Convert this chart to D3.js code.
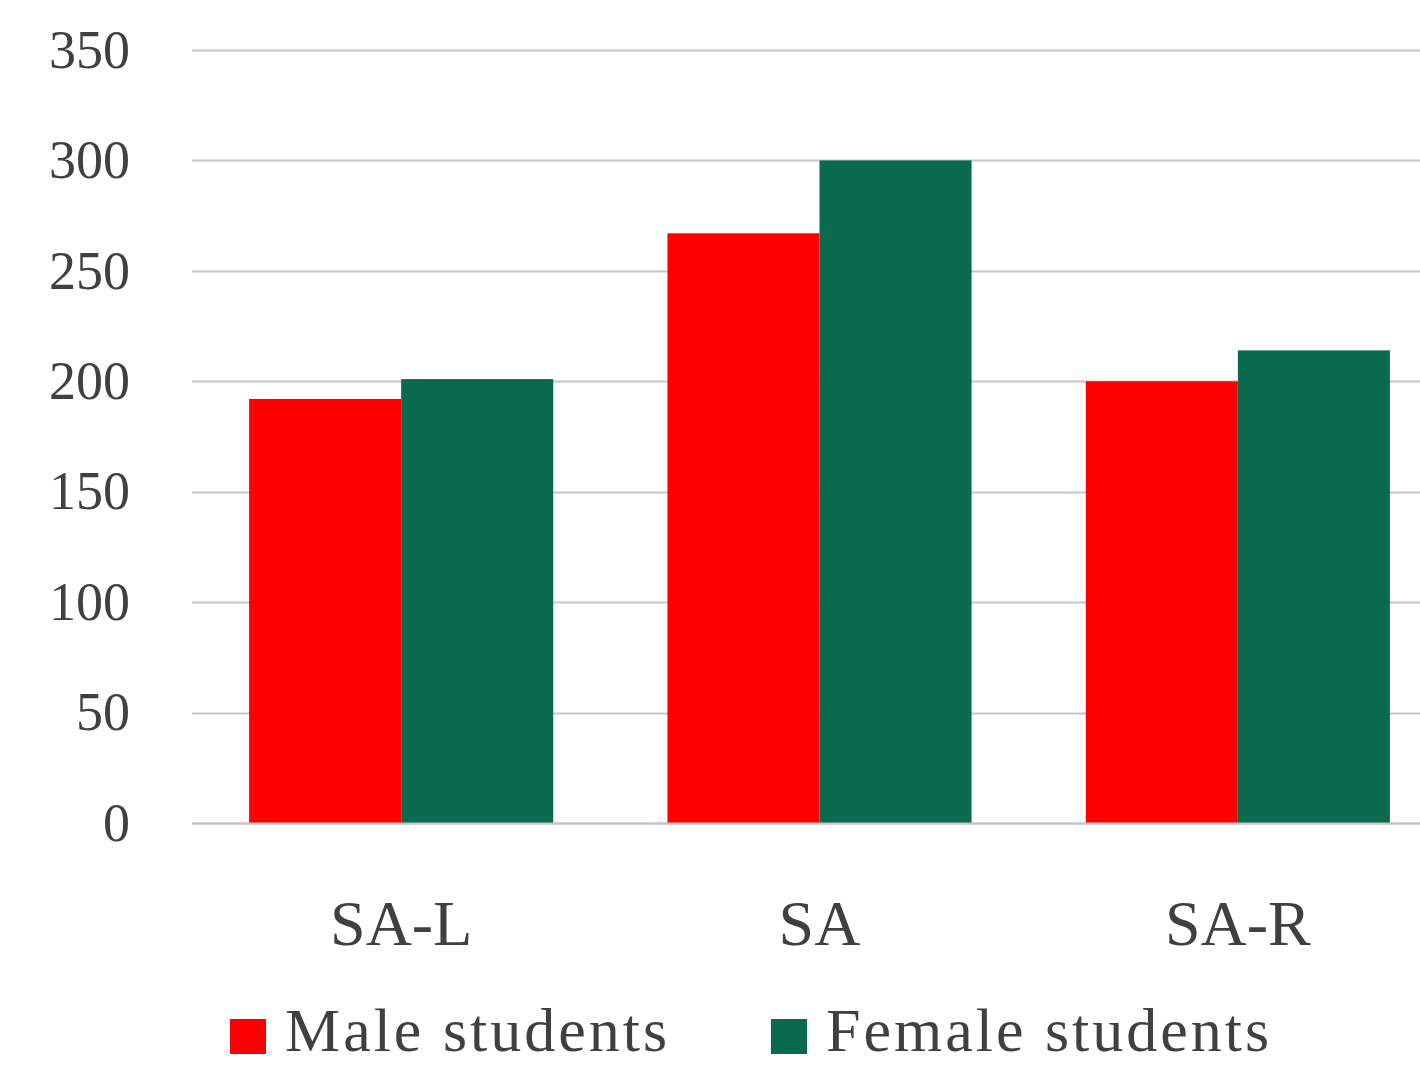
<!DOCTYPE html>
<html><head><meta charset="utf-8">
<script src="https://cdn.jsdelivr.net/npm/d3@7"></script>
<style>html,body{margin:0;padding:0;background:#fff;overflow:hidden;}</style>
</head><body>
<svg id="c" width="1420" height="1066"></svg>
<script>
const categories = ["SA-L", "SA", "SA-R"];
const seriesNames = ["Male students", "Female students"];
const maleValues = [192, 267, 200];
const femaleValues = [201, 300, 214];
const yTicks = [0, 50, 100, 150, 200, 250, 300, 350];
const colors = ["#FF0000", "#0A6A4E"];

(function () {
const svg = d3.select("#c");
const plotLeft = 192, plotRight = 1447, plotTop = 50, plotBottom = 823;
const font = "'Liberation Serif', 'DejaVu Serif', serif";
const textColor = "#404040";

const x = d3.scaleBand().domain(categories).range([plotLeft, plotRight]).paddingInner(0.273).paddingOuter(0.1365);
const x1 = d3.scaleBand().domain(seriesNames).range([0, x.bandwidth()]);
const y = d3.scaleLinear().domain([0, 350]).range([plotBottom, plotTop]);

svg.append("g").selectAll("line").data(yTicks).join("line")
  .attr("x1", plotLeft).attr("x2", 1420)
  .attr("y1", d => Math.round(y(d)) + 0.5).attr("y2", d => Math.round(y(d)) + 0.5)
  .attr("stroke", "#C6C6C6").attr("stroke-width", 2);

const yAxis = svg.append("g").attr("transform", `translate(130,0)`)
  .call(d3.axisLeft(y).tickValues(yTicks).tickSize(0).tickPadding(0));
yAxis.select(".domain").remove();
yAxis.selectAll("text").attr("font-family", font).attr("font-size", 54)
  .attr("fill", textColor).attr("dy", "0.32em");

const data = categories.map((c, i) => ({c, vals: [maleValues[i], femaleValues[i]]}));
const groups = svg.append("g").selectAll("g").data(data).join("g")
  .attr("transform", d => `translate(${x(d.c)},0)`);
groups.selectAll("rect").data(d => d.vals.map((v, j) => ({v, s: seriesNames[j], j})))
  .join("rect")
  .attr("x", d => x1(d.s)).attr("width", x1.bandwidth())
  .attr("y", d => y(d.v)).attr("height", d => y(0) - y(d.v))
  .attr("fill", d => colors[d.j]);

svg.append("line").attr("x1", plotLeft).attr("x2", 1420)
  .attr("y1", Math.round(y(0)) + 0.5).attr("y2", Math.round(y(0)) + 0.5)
  .attr("stroke", "#C6C6C6").attr("stroke-width", 2);

const xAxis = svg.append("g").attr("transform", `translate(0,945)`)
  .call(d3.axisBottom(x).tickSize(0).tickPadding(0));
xAxis.select(".domain").remove();
xAxis.selectAll("text").attr("font-family", font).attr("font-size", 64)
  .attr("fill", textColor).attr("dy", 0);

const legendX = [230, 771];
const leg = svg.append("g").selectAll("g").data(seriesNames).join("g")
  .attr("transform", (d, i) => `translate(${legendX[i]},0)`);
leg.append("rect").attr("x", 0).attr("y", 1019).attr("width", 36).attr("height", 35)
  .attr("fill", (d, i) => colors[i]);
leg.append("text").attr("x", 55).attr("y", 1051).text(d => d)
  .attr("font-family", font).attr("font-size", 62).attr("letter-spacing", 3)
  .attr("fill", textColor);
})();
</script>
</body></html>
